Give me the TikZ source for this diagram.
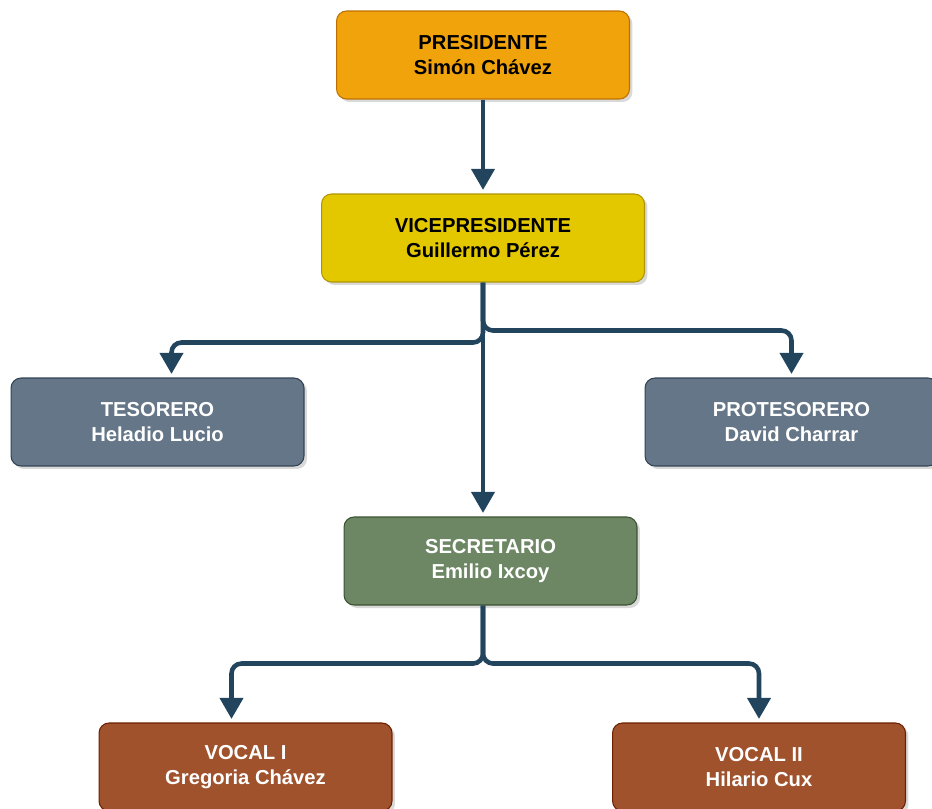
\documentclass[tikz,border=0pt]{standalone}
\usepackage{fontspec}
\setmainfont{Liberation Sans}
\usetikzlibrary{arrows.meta,shadows}

\definecolor{presfill}{HTML}{F0A30A}
\definecolor{presdraw}{HTML}{BD7000}
\definecolor{vicefill}{HTML}{E3C800}
\definecolor{vicedraw}{HTML}{B09500}
\definecolor{tesfill}{HTML}{647687}
\definecolor{tesdraw}{HTML}{314354}
\definecolor{secfill}{HTML}{6D8764}
\definecolor{secdraw}{HTML}{3A5431}
\definecolor{vocfill}{HTML}{A0522D}
\definecolor{vocdraw}{HTML}{6D1F00}
\definecolor{linkcol}{HTML}{23445D}

\begin{document}
\begin{tikzpicture}[x=0.02cm, y=-0.02cm,
  box/.style={rounded corners=0.2cm, minimum width=5.86cm, minimum height=1.76cm,
    align=center, line width=0.6pt,
    font=\fontsize{11.5}{14}\selectfont\bfseries,
    drop shadow={shadow xshift=0.06cm, shadow yshift=-0.06cm, opacity=0.3}},
  link/.style={draw=linkcol, line width=2.6pt, rounded corners=0.2cm,
    shorten >=2pt, -{Triangle[length=12pt, width=13pt]}}]

\useasboundingbox (0,0) rectangle (932,808);

\def\xm{483}; % middle axis
\def\yp{55}; % presidente
\def\yv{238}; % vicepresidente
\def\yt{422}; % tesoreros
\def\ys{561}; % secretario
\def\yvo{767}; % vocales

\node[box, fill=presfill, draw=presdraw] (pres) at (\xm, \yp) {PRESIDENTE\\Simón Chávez};
\node[box, fill=vicefill, draw=vicedraw, minimum width=6.46cm] (vice) at (\xm, \yv) {VICEPRESIDENTE\\Guillermo Pérez};

\node[box, fill=tesfill, draw=tesdraw, text=white] (tes) at (157.5, \yt) {TESORERO\\Heladio Lucio};
\node[box, fill=tesfill, draw=tesdraw, text=white] (prot) at (791.5, \yt) {PROTESORERO\\David Charrar};

\node[box, fill=secfill, draw=secdraw, text=white] (sec) at (490.5, \ys) {SECRETARIO\\Emilio Ixcoy};

\node[box, fill=vocfill, draw=vocdraw, text=white] (voc1) at (245.5, \yvo) {VOCAL I\\Gregoria Chávez};
\node[box, fill=vocfill, draw=vocdraw, text=white] (voc2) at (759, \yvo) {VOCAL II\\Hilario Cux};

\draw[link] (pres.south) -- (vice.north);

\draw[link] (vice.south) -- ++(0,60) -| ([xshift=0.28cm]tes.north);
\draw[link] (vice.south) -- ++(0,48) -| (prot.north);
\draw[link] (vice.south) -- (vice.south |- sec.north);

\draw[link] (vice.south |- sec.south) -- ++(0,58) -| ([xshift=-0.28cm]voc1.north);
\draw[link] (vice.south |- sec.south) -- ++(0,58) -| (voc2.north);

\end{tikzpicture}
\end{document}
